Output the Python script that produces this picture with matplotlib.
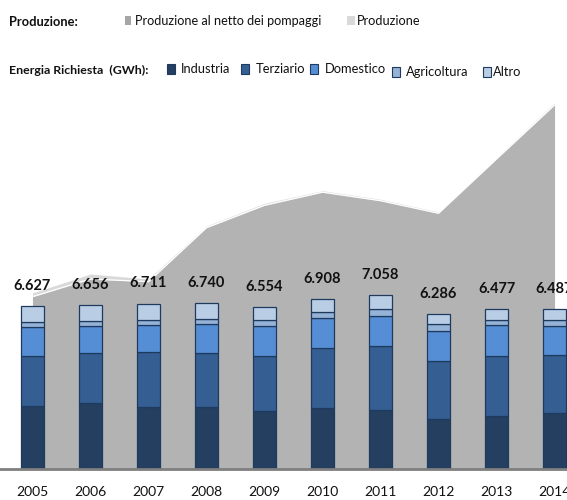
import matplotlib
matplotlib.use("Agg")
import matplotlib.pyplot as plt
from matplotlib.patches import Rectangle
import numpy as np

years = ["2005", "2006", "2007", "2008", "2009", "2010", "2011", "2012", "2013", "2014"]
industria   = [2579, 2703, 2513, 2539, 2358, 2493, 2389, 2034, 2171, 2288]
terziario   = [2025, 1997, 2228, 2187, 2240, 2402, 2604, 2361, 2402, 2349]
domestico   = [1160, 1094, 1106, 1162, 1215, 1243, 1215, 1215, 1268, 1162]
agricoltura = [215, 230, 216, 216, 243, 230, 270, 255, 203, 255]
altro       = [648, 632, 648, 636, 498, 540, 580, 421, 433, 433]
produzione_netta = [6990, 7707, 7598, 9785, 10692, 11223, 10878, 10368, 12567, 14754]
produzione       = [7140, 7910, 7707, 9854, 10773, 11283, 10935, 10421, 12628, 14847]

series = [("Industria", industria, "#243F60"),
          ("Terziario", terziario, "#355E92"),
          ("Domestico", domestico, "#558ED5"),
          ("Agricoltura", agricoltura, "#95B3D7"),
          ("Altro", altro, "#B9CDE5")]

W, H = 567, 500
fig = plt.figure(figsize=(W / 100, H / 100), dpi=100)
plt.rcParams['font.family'] = ['Lato', 'DejaVu Sans']

def fx(x):
    return x / W

def fy(y):
    return 1 - y / H

ax_bottom = 469.3
ax_top = 90
ax = fig.add_axes([0, fy(ax_bottom), 1, (ax_bottom - ax_top) / H])
x = np.arange(len(years))

ax.fill_between(x, produzione, color="#D9D9D9", linewidth=0, zorder=1)
ax.fill_between(x, produzione_netta, color="#B3B3B3", linewidth=0, zorder=2)
ax.plot(x, produzione_netta, color="white", lw=0.9, zorder=2.5)

bottom = np.zeros(len(years))
for name, vals, col in series:
    ax.bar(x, vals, bottom=bottom, width=0.405, color=col, edgecolor="#1F3A5F",
           linewidth=0.9, zorder=3)
    bottom += np.array(vals)

for i, tot in enumerate(bottom):
    lab = f"{int(round(tot)):,}".replace(",", ".")
    ax.annotate(lab, (x[i], tot), xytext=(0, 14.5), textcoords="offset points",
                ha="center", va="center", fontsize=10.5, fontweight="bold",
                color="#111111", zorder=5)

ax.set_xlim(-0.56, 9.215)
ax.set_ylim(0, 15362)
ax.axhline(0, color="#7F7F7F", lw=2, zorder=4, clip_on=False)
for s in ax.spines.values():
    s.set_visible(False)
ax.set_yticks([])
ax.set_xticks(x)
ax.set_xticklabels(years, fontsize=10, color="#111111")
ax.tick_params(axis="x", length=0, pad=12)

# Legend row 1
fig.text(fx(9), fy(22), "Produzione:", fontsize=9.3, fontweight="bold",
         ha="left", va="center", color="#111111")
def square(x0, y0, w, h, fc, ec):
    fig.patches.append(Rectangle((fx(x0), fy(y0 + h)), w / W, h / H,
                                 transform=fig.transFigure, facecolor=fc,
                                 edgecolor=ec, linewidth=0.8))
square(125, 16, 6, 9, "#A6A6A6", "none")
fig.text(fx(135), fy(21), "Produzione al netto dei pompaggi", fontsize=9.1,
         ha="left", va="center", color="#111111")
square(347, 16, 8, 9, "#D9D9D9", "none")
fig.text(fx(357), fy(21), "Produzione", fontsize=9.2, ha="left", va="center",
         color="#111111")

# Legend row 2
fig.text(fx(9), fy(70), "Energia Richiesta  (GWh):", fontsize=8.9, fontweight="bold",
         ha="left", va="center", color="#111111")
leg_x = [167, 241, 310, 392, 483]
leg_tx = [181, 256, 325, 406, 493]
leg_y = [69, 69, 69, 72, 72]
for (name, vals, col), mx, tx, yy in zip(series, leg_x, leg_tx, leg_y):
    square(mx, yy - 5, 8, 10, col, "#1F3A5F")
    fig.text(fx(tx), fy(yy), name, fontsize=9.3, ha="left", va="center",
             color="#111111")

fig.savefig("out.png", dpi=100)
